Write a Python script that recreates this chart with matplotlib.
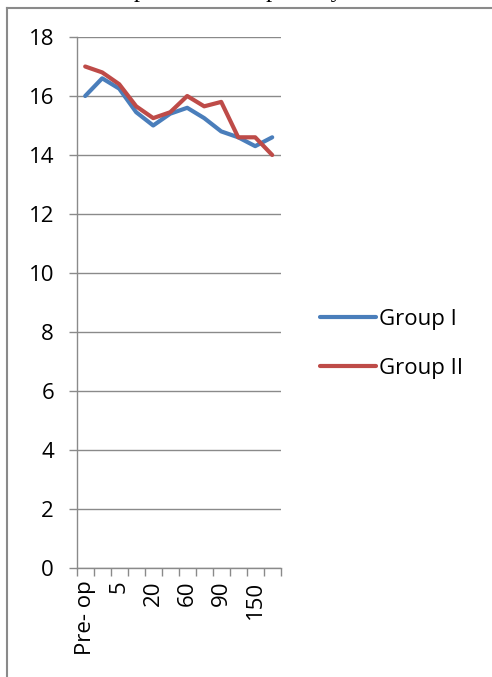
import numpy as np
import matplotlib
matplotlib.use("Agg")
import matplotlib.pyplot as plt
from matplotlib.lines import Line2D

# time points (only every other one is labelled in the figure)
timepoints = ["Pre- op", "1", "5", "10", "20", "30", "60", "75", "90", "120", "150", "180"]
group1 = [16.0, 16.6, 16.25, 15.45, 15.0, 15.4, 15.6, 15.25, 14.8, 14.6, 14.3, 14.6]
group2 = [17.0, 16.8, 16.4, 15.65, 15.25, 15.45, 16.0, 15.65, 15.8, 14.6, 14.6, 14.0]
series_names = ["Group I", "Group II"]
yticks = [0, 2, 4, 6, 8, 10, 12, 14, 16, 18]

W, H = 492, 677
BLUE = "#4a7ebb"
RED = "#be4b48"
GRAY = "#8a8a8a"
FONT = "Open Sans"

fig = plt.figure(figsize=(W / 100, H / 100), dpi=100)

# frame of the chart area (cut off on right and bottom)
fig.add_artist(Line2D([7 / W, 1.0], [1 - 8 / H, 1 - 8 / H], color=GRAY, lw=1.5,
                      transform=fig.transFigure))
fig.add_artist(Line2D([7 / W, 7 / W], [0.0, 1 - 8 / H], color=GRAY, lw=1.5,
                      transform=fig.transFigure))

# title, mostly cut off above the picture
fig.text(43 / W, 1.0 + 2.5 / H, "The Comparison of respiratory rate",
         family="Liberation Serif", fontsize=17.5, va="baseline", ha="left")

ax = fig.add_axes([76.7 / W, 1 - 568 / H, 204 / W, 531 / H])
x = np.arange(len(timepoints))
l1, = ax.plot(x, group1, color=BLUE, lw=3, solid_capstyle="round", solid_joinstyle="round")
l2, = ax.plot(x, group2, color=RED, lw=3, solid_capstyle="round", solid_joinstyle="round")

ax.set_xlim(-0.5, len(timepoints) - 0.5)
ax.set_ylim(0, 18)
ax.set_yticks(yticks)
ax.set_yticklabels([str(v) for v in yticks], family=FONT, fontsize=16)
ax.yaxis.grid(True, color=GRAY, lw=1)
ax.set_axisbelow(True)

ax.set_xticks(x)
ax.set_xticklabels([t if i % 2 == 0 else "" for i, t in enumerate(timepoints)],
                   family=FONT, fontsize=16, rotation=90)
ax.set_xticks(np.arange(len(timepoints) + 1) - 0.5, minor=True)
ax.tick_params(axis="x", which="major", length=0, pad=9)
ax.tick_params(axis="x", which="minor", length=5.8, color=GRAY, width=1)
ax.tick_params(axis="y", length=5.8, color=GRAY, width=1, pad=10.5)

for side in ["top", "right"]:
    ax.spines[side].set_visible(False)
for side in ["left", "bottom"]:
    ax.spines[side].set_color(GRAY)
    ax.spines[side].set_linewidth(1)

leg = fig.legend([l1, l2], series_names, loc="center left",
                 bbox_to_anchor=(320 / W, 1 - 344 / H), frameon=False,
                 prop={"family": FONT, "size": 16}, handlelength=2.5,
                 handletextpad=0.15, labelspacing=1.25, borderpad=0, borderaxespad=0)

fig.savefig("out.png", dpi=100)
